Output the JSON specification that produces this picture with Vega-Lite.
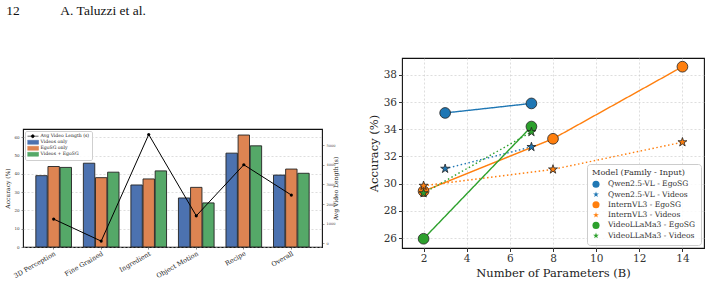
{
  "$schema": "https://vega.github.io/schema/vega-lite/v6.json",
  "padding": {"left": 4, "top": 3, "right": 0, "bottom": 0},
  "background": "white",
  "title": {
    "text": "12\u00a0\u00a0\u00a0\u00a0\u00a0\u00a0\u00a0\u00a0\u00a0\u00a0\u00a0\u00a0A. Taluzzi et al.",
    "anchor": "start",
    "frame": "bounds",
    "dx": 2,
    "font": "Liberation Serif",
    "fontSize": 13.5,
    "fontWeight": "normal",
    "color": "#111",
    "offset": 40
  },
  "datasets": {
    "bars": [
      {"category": "3D Perception", "input": "Videos only", "accuracy": 39.0},
      {"category": "3D Perception", "input": "EgoSG only", "accuracy": 44.0},
      {"category": "3D Perception", "input": "Videos + EgoSG", "accuracy": 43.5},
      {"category": "Fine Grained", "input": "Videos only", "accuracy": 45.8},
      {"category": "Fine Grained", "input": "EgoSG only", "accuracy": 37.9},
      {"category": "Fine Grained", "input": "Videos + EgoSG", "accuracy": 40.9},
      {"category": "Ingredient", "input": "Videos only", "accuracy": 33.9},
      {"category": "Ingredient", "input": "EgoSG only", "accuracy": 37.2},
      {"category": "Ingredient", "input": "Videos + EgoSG", "accuracy": 41.6},
      {"category": "Object Motion", "input": "Videos only", "accuracy": 26.8},
      {"category": "Object Motion", "input": "EgoSG only", "accuracy": 32.6},
      {"category": "Object Motion", "input": "Videos + EgoSG", "accuracy": 24.1},
      {"category": "Recipe", "input": "Videos only", "accuracy": 51.3},
      {"category": "Recipe", "input": "EgoSG only", "accuracy": 61.2},
      {"category": "Recipe", "input": "Videos + EgoSG", "accuracy": 55.3},
      {"category": "Overall", "input": "Videos only", "accuracy": 39.3},
      {"category": "Overall", "input": "EgoSG only", "accuracy": 42.6},
      {"category": "Overall", "input": "Videos + EgoSG", "accuracy": 40.3}
    ],
    "lengths": [
      {"category": "3D Perception", "input": "Avg Video Length (s)", "length": 1235},
      {"category": "Fine Grained", "input": "Avg Video Length (s)", "length": 110},
      {"category": "Ingredient", "input": "Avg Video Length (s)", "length": 5550},
      {"category": "Object Motion", "input": "Avg Video Length (s)", "length": 1400},
      {"category": "Recipe", "input": "Avg Video Length (s)", "length": 4005},
      {"category": "Overall", "input": "Avg Video Length (s)", "length": 2460}
    ],
    "models": [
      {"family": "Qwen2.5-VL", "input": "EgoSG", "series": "Qwen2.5-VL - EgoSG", "params": 3, "accuracy": 35.2},
      {"family": "Qwen2.5-VL", "input": "EgoSG", "series": "Qwen2.5-VL - EgoSG", "params": 7, "accuracy": 35.9},
      {"family": "Qwen2.5-VL", "input": "Videos", "series": "Qwen2.5-VL - Videos", "params": 3, "accuracy": 31.1},
      {"family": "Qwen2.5-VL", "input": "Videos", "series": "Qwen2.5-VL - Videos", "params": 7, "accuracy": 32.7},
      {"family": "InternVL3", "input": "EgoSG", "series": "InternVL3 - EgoSG", "params": 2, "accuracy": 29.45},
      {"family": "InternVL3", "input": "EgoSG", "series": "InternVL3 - EgoSG", "params": 8, "accuracy": 33.3},
      {"family": "InternVL3", "input": "EgoSG", "series": "InternVL3 - EgoSG", "params": 14, "accuracy": 38.6},
      {"family": "InternVL3", "input": "Videos", "series": "InternVL3 - Videos", "params": 2, "accuracy": 29.85},
      {"family": "InternVL3", "input": "Videos", "series": "InternVL3 - Videos", "params": 8, "accuracy": 31.05},
      {"family": "InternVL3", "input": "Videos", "series": "InternVL3 - Videos", "params": 14, "accuracy": 33.05},
      {"family": "VideoLLaMa3", "input": "EgoSG", "series": "VideoLLaMa3 - EgoSG", "params": 2, "accuracy": 25.95},
      {"family": "VideoLLaMa3", "input": "EgoSG", "series": "VideoLLaMa3 - EgoSG", "params": 7, "accuracy": 34.2},
      {"family": "VideoLLaMa3", "input": "Videos", "series": "VideoLLaMa3 - Videos", "params": 2, "accuracy": 29.3},
      {"family": "VideoLLaMa3", "input": "Videos", "series": "VideoLLaMa3 - Videos", "params": 7, "accuracy": 33.8}
    ]
  },
  "config": {
    "font": "DejaVu Serif",
    "view": {"stroke": "#111", "strokeWidth": 1.1},
    "axis": {"labelFont": "DejaVu Serif", "titleFont": "DejaVu Serif", "titleFontWeight": "normal", "labelColor": "#333", "titleColor": "#222", "domain": false, "tickColor": "#333", "gridColor": "#c8c8c8", "gridDash": [2, 2], "gridWidth": 0.6, "labelOverlap": false},
    "legend": {"labelFont": "DejaVu Serif", "titleFont": "DejaVu Serif"}
  },
  "spacing": 27,
  "resolve": {"scale": {"color": "independent", "shape": "independent"}, "legend": {"color": "independent", "shape": "independent"}},
  "hconcat": [
    {
      "spacing": 10,
      "resolve": {"scale": {"color": "independent"}, "legend": {"color": "independent"}},
      "vconcat": [
        {
          "width": 299,
          "height": 60,
          "view": {"stroke": null},
          "data": {"values": []},
          "mark": "point",
          "encoding": {}
        },
        {
          "width": 299,
          "height": 118,
          "encoding": {
            "x": {
              "field": "category", "type": "nominal",
              "sort": ["3D Perception", "Fine Grained", "Ingredient", "Object Motion", "Recipe", "Overall"],
              "scale": {"paddingInner": 0.25, "paddingOuter": 0.27},
              "axis": {"title": null, "labelAngle": -30, "labelFontSize": 6.5, "labelColor": "#222", "tickSize": 2, "tickWidth": 0.6, "labelPadding": 1}
            },
            "color": {
              "field": "input", "type": "nominal",
              "scale": {"domain": ["Avg Video Length (s)", "Videos only", "EgoSG only", "Videos + EgoSG"], "range": ["#000000", "#4c72b0", "#dd8452", "#55a868"]},
              "legend": {
                "title": null, "orient": "top-left", "offset": 2,
                "labelFontSize": 4.6, "labelColor": "#222", "labelOffset": 7,
                "symbolSize": 25, "symbolStrokeWidth": 0.6, "clipHeight": 5.4, "rowPadding": -1.2, "padding": 2.5,
                "fillColor": "rgba(255,255,255,0.85)", "strokeColor": "#cfcfcf", "cornerRadius": 1.5,
                "encode": {
                  "symbols": {
                    "update": {
                      "size": {"value": 25},
                      "shape": {"signal": "datum.value === 'Avg Video Length (s)' ? 'M-1.4,0H3.2M1.5,0A0.6,0.6,0,1,1,0.3,0A0.6,0.6,0,1,1,1.5,0Z' : 'M-1.4,-0.8H3.2V0.8H-1.4Z'"},
                      "fill": {"signal": "datum.value === 'Avg Video Length (s)' ? '#000' : datum.value === 'Videos only' ? '#4c72b0' : datum.value === 'EgoSG only' ? '#dd8452' : '#55a868'"},
                      "stroke": {"signal": "datum.value === 'Avg Video Length (s)' ? '#000' : '#222'"},
                      "strokeWidth": {"value": 0.6},
                      "opacity": {"value": 1}
                    }
                  }
                }
              }
            }
          },
          "layer": [
            {
              "data": {"name": "bars"},
              "mark": {"type": "bar", "stroke": "#222", "strokeWidth": 0.9},
              "encoding": {
                "xOffset": {
                  "field": "input", "type": "nominal",
                  "sort": ["Videos only", "EgoSG only", "Videos + EgoSG"],
                  "scale": {"paddingInner": 0.06}
                },
                "y": {
                  "field": "accuracy", "type": "quantitative", "stack": null,
                  "scale": {"domain": [0, 64.5], "nice": false},
                  "axis": {"title": "Accuracy (%)", "values": [0, 10, 20, 30, 40, 50, 60], "labelFontSize": 4, "titleFontSize": 6, "tickSize": 2, "tickWidth": 0.5, "labelPadding": 2, "titlePadding": 3, "grid": true}
                }
              }
            },
            {
              "data": {"name": "lengths"},
              "mark": {"type": "line", "strokeWidth": 1, "point": {"filled": true, "size": 10, "color": "#000"}},
              "encoding": {
                "y": {
                  "field": "length", "type": "quantitative",
                  "scale": {"domain": [-190, 5830], "nice": false},
                  "axis": {"orient": "right", "title": "Avg Video Length (s)", "titleAngle": 270, "values": [0, 1000, 2000, 3000, 4000, 5000], "format": "d", "labelFontSize": 3.5, "titleFontSize": 6, "tickSize": 2, "tickWidth": 0.5, "labelPadding": 2, "titlePadding": 4, "grid": false}
                }
              }
            }
          ],
          "resolve": {"scale": {"y": "independent"}}
        }
      ]
    },
    {
      "width": 302,
      "height": 190,
      "encoding": {
        "x": {
          "field": "params", "type": "quantitative",
          "scale": {"domain": [1, 15], "nice": false},
          "axis": {"title": "Number of Parameters (B)", "values": [2, 4, 6, 8, 10, 12, 14], "labelFontSize": 10.5, "titleFontSize": 11.5, "tickSize": 3.5, "labelPadding": 2, "titlePadding": 3, "grid": true}
        },
        "y": {
          "field": "accuracy", "type": "quantitative",
          "scale": {"domain": [25.27, 39.24], "nice": false, "zero": false},
          "axis": {"title": "Accuracy (%)", "values": [26, 28, 30, 32, 34, 36, 38], "labelFontSize": 10.5, "titleFontSize": 11.5, "tickSize": 3.5, "labelPadding": 2, "titlePadding": 4, "grid": true, "labelOverlap": false}
        }
      },
      "layer": [
        {
          "data": {"name": "models"},
          "mark": {"type": "line", "strokeWidth": 1.4},
          "encoding": {
            "color": {
              "field": "family", "type": "nominal",
              "scale": {"domain": ["Qwen2.5-VL", "InternVL3", "VideoLLaMa3"], "range": ["#1f77b4", "#ff7f0e", "#2ca02c"]},
              "legend": null
            },
            "strokeDash": {
              "field": "input", "type": "nominal",
              "scale": {"domain": ["EgoSG", "Videos"], "range": [[1, 0], [1.5, 2.5]]},
              "legend": null
            },
            "detail": {"field": "series"},
            "order": {"field": "params"}
          }
        },
        {
          "data": {"name": "models"},
          "mark": {"type": "point", "filled": true, "opacity": 1, "size": 115, "stroke": "#222", "strokeWidth": 0.8},
          "encoding": {
            "color": {
              "field": "series", "type": "nominal",
              "scale": {
                "domain": ["Qwen2.5-VL - EgoSG", "Qwen2.5-VL - Videos", "InternVL3 - EgoSG", "InternVL3 - Videos", "VideoLLaMa3 - EgoSG", "VideoLLaMa3 - Videos"],
                "range": ["#1f77b4", "#1f77b4", "#ff7f0e", "#ff7f0e", "#2ca02c", "#2ca02c"]
              },
              "legend": {
                "title": "Model (Family - Input)", "orient": "bottom-right", "offset": 3,
                "titleFontSize": 8.2, "titleFontWeight": "normal", "titleColor": "#333", "titlePadding": 3,
                "labelFontSize": 7.6, "labelColor": "#333", "labelOffset": 8,
                "symbolSize": 50, "symbolStrokeWidth": 0, "rowPadding": 2.3, "padding": 5,
                "fillColor": "rgba(255,255,255,0.85)", "strokeColor": "#cccccc", "cornerRadius": 3,
                "encode": {"symbols": {"update": {
                  "size": {"value": 50},
                  "strokeWidth": {"value": 0},
                  "opacity": {"value": 1},
                  "fill": {"signal": "indexof(datum.value, 'Qwen') === 0 ? '#1f77b4' : indexof(datum.value, 'Intern') === 0 ? '#ff7f0e' : '#2ca02c'"}
                }}}
              }
            },
            "shape": {
              "field": "series", "type": "nominal",
              "scale": {
                "domain": ["Qwen2.5-VL - EgoSG", "Qwen2.5-VL - Videos", "InternVL3 - EgoSG", "InternVL3 - Videos", "VideoLLaMa3 - EgoSG", "VideoLLaMa3 - Videos"],
                "range": ["circle", "M0,-0.88L0.198,-0.272L0.837,-0.272L0.319,0.104L0.517,0.712L0,0.336L-0.517,0.712L-0.319,0.104L-0.837,-0.272L-0.198,-0.272Z", "circle", "M0,-0.88L0.198,-0.272L0.837,-0.272L0.319,0.104L0.517,0.712L0,0.336L-0.517,0.712L-0.319,0.104L-0.837,-0.272L-0.198,-0.272Z", "circle", "M0,-0.88L0.198,-0.272L0.837,-0.272L0.319,0.104L0.517,0.712L0,0.336L-0.517,0.712L-0.319,0.104L-0.837,-0.272L-0.198,-0.272Z"]
              },
              "legend": {
                "title": "Model (Family - Input)", "orient": "bottom-right", "offset": 3,
                "titleFontSize": 8.2, "titleFontWeight": "normal", "titleColor": "#333", "titlePadding": 3,
                "labelFontSize": 7.6, "labelColor": "#333", "labelOffset": 8,
                "symbolSize": 50, "symbolStrokeWidth": 0, "rowPadding": 2.3, "padding": 5,
                "fillColor": "rgba(255,255,255,0.85)", "strokeColor": "#cccccc", "cornerRadius": 3,
                "encode": {"symbols": {"update": {
                  "size": {"value": 50},
                  "strokeWidth": {"value": 0},
                  "opacity": {"value": 1},
                  "fill": {"signal": "indexof(datum.value, 'Qwen') === 0 ? '#1f77b4' : indexof(datum.value, 'Intern') === 0 ? '#ff7f0e' : '#2ca02c'"}
                }}}
              }
            }
          }
        }
      ],
      "resolve": {"scale": {"color": "independent", "shape": "independent"}}
    }
  ]
}
